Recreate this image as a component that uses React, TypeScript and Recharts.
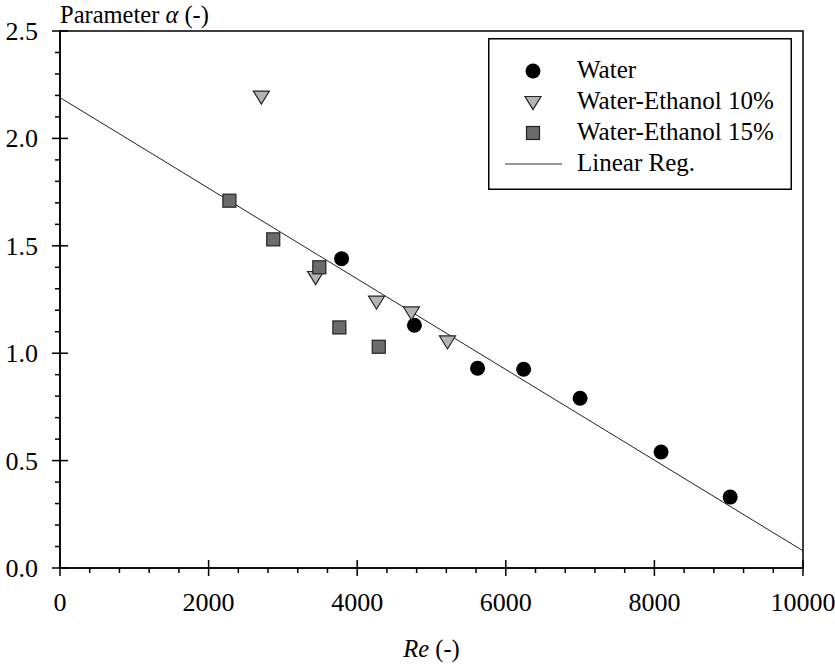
import React from 'react';
import {
  ComposedChart,
  Scatter,
  XAxis,
  YAxis,
  ReferenceArea,
  Legend,
} from 'recharts';

// ---- data ----
const waterRe = [3790, 4770, 5620, 6240, 7000, 8090, 9020];
const waterAlpha = [1.44, 1.13, 0.93, 0.925, 0.79, 0.54, 0.33];

const eth10Re = [2710, 3440, 4260, 4730, 5215];
const eth10Alpha = [2.19, 1.35, 1.235, 1.185, 1.05];

const eth15Re = [2280, 2870, 3490, 3760, 4290];
const eth15Alpha = [1.71, 1.53, 1.40, 1.12, 1.03];

const regRe = [0, 10000];
const regAlpha = [2.19, 0.08];

const xTicks = [
  0, 400, 800, 1200, 1600, 2000, 2400, 2800, 3200, 3600, 4000, 4400, 4800, 5200, 5600, 6000,
  6400, 6800, 7200, 7600, 8000, 8400, 8800, 9200, 9600, 10000,
];
const yTicks = [
  0, 0.1, 0.2, 0.3, 0.4, 0.5, 0.6, 0.7, 0.8, 0.9, 1.0, 1.1, 1.2, 1.3, 1.4, 1.5, 1.6, 1.7, 1.8,
  1.9, 2.0, 2.1, 2.2, 2.3, 2.4, 2.5,
];

const seriesNames = ['Water', 'Water-Ethanol 10%', 'Water-Ethanol 15%', 'Linear Reg.'];

const toPoints = (xs: number[], ys: number[]) => xs.map((x, i) => ({ x, y: ys[i] }));
const waterData = toPoints(waterRe, waterAlpha);
const eth10Data = toPoints(eth10Re, eth10Alpha);
const eth15Data = toPoints(eth15Re, eth15Alpha);
const regData = toPoints(regRe, regAlpha);

const FONT = "'Liberation Serif', 'Times New Roman', Times, serif";
const tickStyle: React.CSSProperties = { fontFamily: FONT, fontSize: 26 };
const legendStyle: React.CSSProperties = { fontFamily: FONT, fontSize: 25 };
const titleStyle: React.CSSProperties = { fontFamily: FONT, fontSize: 24.5 };

const Circle = (p: any) => <circle cx={p.cx} cy={p.cy} r={7.5} fill="#000" />;
const DownTri = (p: any) => {
  const { cx, cy } = p;
  const w = 8,
    h = 6.5;
  return (
    <polygon
      points={`${cx - w},${cy - h} ${cx + w},${cy - h} ${cx},${cy + h}`}
      fill="#b4b4b4"
      stroke="#222"
      strokeWidth={1.2}
    />
  );
};
const Square = (p: any) => (
  <rect x={p.cx - 6.5} y={p.cy - 6.5} width={13} height={13} fill="#6b6b6b" stroke="#222" strokeWidth={1.2} />
);
const Nothing = () => <g />;

const XTick = (props: any) => {
  const { x, y, payload } = props;
  const v = payload.value;
  const major = v % 2000 === 0;
  return (
    <g>
      <line x1={x} x2={x} y1={major ? y - 8 : y} y2={major ? y + 8 : y + 5} stroke="#000" strokeWidth={1.5} />
      {major && (
        <text x={x} y={y + 43} textAnchor="middle" style={tickStyle} fill="#000">
          {v}
        </text>
      )}
    </g>
  );
};

const YTick = (props: any) => {
  const { x, y, payload } = props;
  const v = payload.value;
  const major = Math.abs(v * 2 - Math.round(v * 2)) < 1e-6;
  return (
    <g>
      <line x1={major ? x - 8 : x - 5} x2={major ? x + 8 : x} y1={y} y2={y} stroke="#000" strokeWidth={1.5} />
      {major && (
        <text x={x - 22} y={y + 9} textAnchor="end" style={tickStyle} fill="#000">
          {v.toFixed(1)}
        </text>
      )}
    </g>
  );
};

const YTitle = (props: any) => {
  const vb = props.viewBox;
  return (
    <text x={vb.x + vb.width} y={vb.y - 8} style={titleStyle} fill="#000">
      Parameter <tspan fontStyle="italic">α</tspan> (-)
    </text>
  );
};

const XTitle = (props: any) => {
  const vb = props.viewBox;
  return (
    <text x={vb.x + vb.width / 2} y={vb.y + 89} textAnchor="middle" style={titleStyle} fill="#000">
      <tspan fontStyle="italic">Re</tspan> (-)
    </text>
  );
};

const LegendBox = () => {
  const rowBase = [40, 71, 102, 133];
  const markY = [33, 65, 95, 126];
  const mx = 45;
  return (
    <svg width={304} height={152} style={{ display: 'block' }}>
      <rect x={0.75} y={0.75} width={302.5} height={150.5} fill="#fff" stroke="#000" strokeWidth={1.5} />
      <Circle cx={mx} cy={markY[0]} />
      <DownTri cx={mx} cy={markY[1]} />
      <Square cx={mx} cy={markY[2]} />
      <line x1={17} x2={74} y1={markY[3]} y2={markY[3]} stroke="#333" strokeWidth={1} />
      {seriesNames.map((n, i) => (
        <text key={n} x={89} y={rowBase[i]} style={legendStyle} fill="#000">
          {n}
        </text>
      ))}
    </svg>
  );
};

export default function App() {
  return (
    <div style={{ position: 'absolute', left: 0, top: 0, width: 835, height: 666, background: '#fff' }}>
      <ComposedChart
        width={835}
        height={666}
        margin={{ top: 31, right: 32, left: 10, bottom: 38 }}
        style={{ background: '#fff' }}
      >
        <XAxis
          type="number"
          dataKey="x"
          domain={[0, 10000]}
          ticks={xTicks}
          interval={0}
          tickSize={0}
          tickMargin={0}
          tickLine={false}
          tick={<XTick />}
          axisLine={{ stroke: '#000', strokeWidth: 1.5 }}
          height={60}
          allowDataOverflow
          label={{ content: <XTitle /> }}
        />
        <YAxis
          type="number"
          dataKey="y"
          domain={[0, 2.5]}
          ticks={yTicks}
          interval={0}
          tickSize={0}
          tickMargin={0}
          tickLine={false}
          tick={<YTick />}
          axisLine={{ stroke: '#000', strokeWidth: 1.5 }}
          width={50}
          allowDataOverflow
          label={{ content: <YTitle /> }}
        />
        <ReferenceArea x1={0} x2={10000} y1={0} y2={2.5} fill="none" stroke="#000" strokeWidth={1.5} fillOpacity={0} />
        <Scatter
          name="Linear Reg."
          data={regData}
          line={{ stroke: '#222', strokeWidth: 1 }}
          shape={<Nothing />}
          isAnimationActive={false}
        />
        <Scatter name="Water" data={waterData} shape={<Circle />} isAnimationActive={false} />
        <Scatter name="Water-Ethanol 10%" data={eth10Data} shape={<DownTri />} isAnimationActive={false} />
        <Scatter name="Water-Ethanol 15%" data={eth15Data} shape={<Square />} isAnimationActive={false} />
        <Legend
          layout="vertical"
          align="center"
          verticalAlign="middle"
          content={<LegendBox />}
          wrapperStyle={{ position: 'absolute', left: 488, top: 38, width: 304, height: 152 }}
        />
      </ComposedChart>
    </div>
  );
}
